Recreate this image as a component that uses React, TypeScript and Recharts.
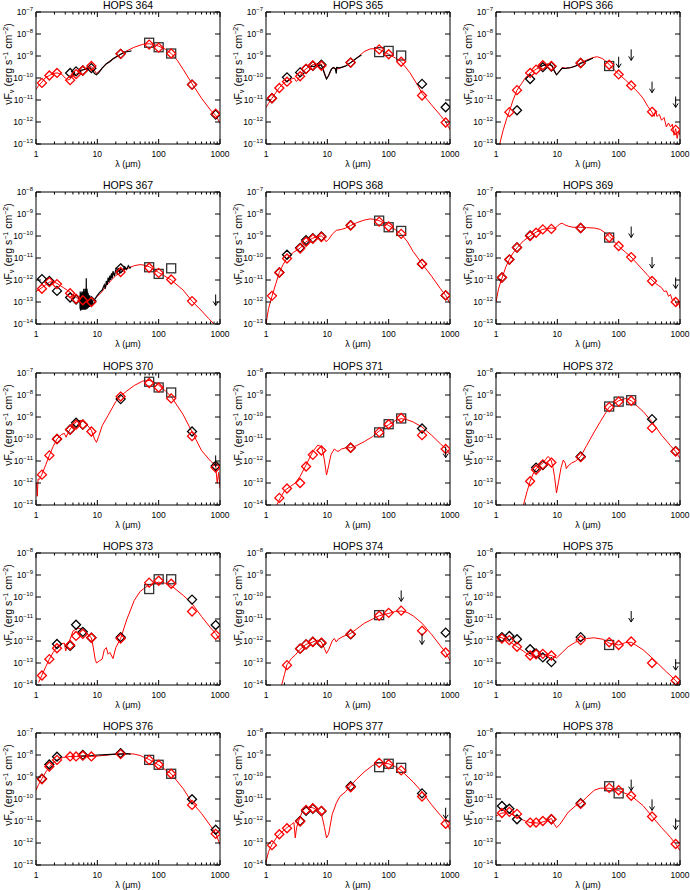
import React from 'react';
import { ComposedChart, Line, Scatter, XAxis, YAxis } from 'recharts';

type Pt = [number, number];
const FONT = '"Liberation Sans", Arial, Helvetica, sans-serif';

const titles = ['HOPS 364','HOPS 365','HOPS 366','HOPS 367','HOPS 368','HOPS 369','HOPS 370','HOPS 371','HOPS 372','HOPS 373','HOPS 374','HOPS 375','HOPS 376','HOPS 377','HOPS 378'];
// decade exponent range (min, max) of each panel's y axis
const yExpRanges: [number, number][] = [
  [-13,-7],[-13,-7],[-13,-7],
  [-14,-8],[-13,-7],[-13,-7],
  [-13,-7],[-14,-8],[-14,-8],
  [-14,-8],[-14,-8],[-14,-8],
  [-13,-7],[-14,-8],[-14,-8],
];
const xTickValues = [1,2,3,4,5,6,7,8,9,10,20,30,40,50,60,70,80,90,100,200,300,400,500,600,700,800,900,1000];
const xTickLabels = [1,10,100,1000];

// ---- HOPS 364 ----
const m364: Pt[] = [[1,3e-11],[1.1,4.5e-11],[1.25,6.5e-11],[1.4,1e-10],[1.65,1.3e-10],[1.9,1.6e-10],[2.2,1.7e-10],[2.6,1.5e-10],[3.0,1e-10],[3.3,8e-11],[3.6,9e-11],[4.0,1.2e-10],[4.5,1.5e-10],[5.0,1.8e-10],[5.8,2.3e-10],[7,3e-10],[8,3.3e-10],[8.7,2.5e-10],[9.7,1.6e-10],[11,2.2e-10],[13,3.5e-10],[16,6e-10],[20,8.5e-10],[24,1.2e-9],[30,1.7e-9],[40,2.5e-9],[55,3.4e-9],[70,3.6e-9],[85,3.3e-9],[100,2.8e-9],[130,2e-9],[160,1.3e-9],[200,6.5e-10],[250,2.5e-10],[350,5.5e-11],[500,1.2e-11],[700,3.5e-12],[850,2e-12],[1000,9e-13]];
const r364: Pt[] = [[1.25,6e-11],[1.65,1.3e-10],[2.2,1.7e-10],[3.6,8e-11],[4.5,1.5e-10],[5.8,2.2e-10],[8,3.5e-10],[24,1.25e-9],[70,3.3e-9],[100,2.4e-9],[160,1.3e-9],[350,5e-11],[850,2.4e-12]];
const d364: Pt[] = [[3.6,1.7e-10],[4.5,2e-10],[5.8,2.2e-10],[8,2.8e-10],[24,1.25e-9],[350,5e-11],[850,2.2e-12]];
const s364: Pt[] = [[70,4e-9],[100,2.5e-9],[160,1.3e-9]];
const u364: Pt[] = [];
const i364: Pt[] = [[5.2,2.2e-10],[6,2.4e-10],[7,2.6e-10],[7.6,2.9e-10],[8.2,2.4e-10],[9,1.6e-10],[9.7,1.4e-10],[10.5,1.7e-10],[12,2.8e-10],[14,4.5e-10],[15,5e-10],[16,5.5e-10],[18,7.5e-10],[20,9e-10],[24,1.2e-9],[28,1.5e-9],[32,1.6e-9],[36,1.7e-9]];

// ---- HOPS 365 ----
const m365: Pt[] = [[1,4.5e-12],[1.1,7e-12],[1.25,1.2e-11],[1.45,2.2e-11],[1.65,3.6e-11],[1.9,5.5e-11],[2.2,7.5e-11],[2.6,9e-11],[2.9,1e-10],[3.1,7e-11],[3.3,8e-11],[3.6,1.3e-10],[4.0,2e-10],[4.5,2.6e-10],[5.0,3.2e-10],[5.8,4e-10],[7,4.4e-10],[8,4.3e-10],[8.8,2e-10],[9.7,9e-11],[10.5,1.3e-10],[12,2.8e-10],[13,3e-10],[14,2.5e-10],[16,2.8e-10],[20,3.6e-10],[24,5e-10],[30,8e-10],[40,1.6e-9],[50,2.1e-9],[65,2.2e-9],[80,1.7e-9],[100,1.2e-9],[130,8e-10],[160,5.5e-10],[220,1.8e-10],[300,4.5e-11],[350,2e-11],[500,6e-12],[700,2e-12],[850,1e-12],[1000,4.5e-13]];
const r365: Pt[] = [[1.25,1.2e-11],[1.65,3.5e-11],[2.2,6.8e-11],[3.6,1.2e-10],[4.5,2.6e-10],[5.8,3.7e-10],[8,3.6e-10],[24,5e-10],[70,2e-9],[100,1.2e-9],[160,5.5e-10],[350,1.6e-11],[850,9.5e-13]];
const d365: Pt[] = [[1.25,1.2e-11],[2.2,1.07e-10],[3.6,1.8e-10],[4.5,2.6e-10],[5.8,3.6e-10],[8,4e-10],[24,5e-10],[350,5.4e-11],[850,4.7e-12]];
const s365: Pt[] = [[70,1.5e-9],[100,1.7e-9],[160,1.05e-9]];
const u365: Pt[] = [];
const i365: Pt[] = [[5.2,3e-10],[5.6,3.5e-10],[6,3.2e-10],[6.5,3.8e-10],[7,3.4e-10],[7.5,3.9e-10],[8,3.8e-10],[8.5,2.5e-10],[9.2,1.3e-10],[9.7,9e-11],[10.5,1.3e-10],[11.5,2.4e-10],[12.5,3e-10],[13.5,2.6e-10],[14,1.6e-10],[14.2,3e-10],[16,2.9e-10],[18,3.2e-10],[20,3.5e-10],[24,5e-10],[28,7e-10],[32,9e-10],[36,1.1e-9]];

// ---- HOPS 366 ----
const m366: Pt[] = [[1.15,1e-13],[1.3,4e-13],[1.5,1.5e-12],[1.65,3e-12],[1.9,1e-11],[2.2,2.8e-11],[2.6,5.5e-11],[3,1e-10],[3.6,1.7e-10],[4.5,2.5e-10],[5.8,3.8e-10],[7,4e-10],[8,3.6e-10],[8.8,2.3e-10],[9.7,1.4e-10],[10.5,1.8e-10],[12,3e-10],[14,2.8e-10],[16,2.9e-10],[20,3.6e-10],[24,5e-10],[30,6.5e-10],[38,8.5e-10],[45,9.3e-10],[55,7.5e-10],[70,4.2e-10],[85,2.3e-10],[100,1.5e-10],[130,8e-11],[160,4.6e-11],[200,2.5e-11],[250,1.2e-11],[300,5e-12],[350,2.8e-12],[380,1.8e-12],[400,3.5e-12],[420,1.8e-12],[460,2.2e-12],[500,1.2e-12],[550,1.6e-12],[600,6e-13],[650,9e-13],[700,6e-13],[750,8e-13],[800,2.5e-13],[850,5e-13],[900,1.8e-13],[950,4e-13],[1000,2.5e-13]];
const r366: Pt[] = [[1.65,2.8e-12],[2.2,2.8e-11],[3.6,1.7e-10],[4.5,2.4e-10],[5.8,3.8e-10],[8,3.5e-10],[24,4.8e-10],[70,4e-10],[100,1.45e-10],[160,4.6e-11],[350,2.9e-12],[850,4.4e-13]];
const d366: Pt[] = [[2.2,3.4e-12],[3.6,9e-11],[5.8,3.1e-10],[8,3.3e-10],[24,4.8e-10]];
const s366: Pt[] = [[70,3.5e-10]];
const u366: Pt[] = [[100,9.3e-10],[160,2e-9],[350,6.8e-11],[850,1.45e-11]];
const i366: Pt[] = [[5.2,3.2e-10],[6,3.8e-10],[7,4.3e-10],[7.6,4.2e-10],[8.3,3.5e-10],[9,2e-10],[9.7,1.4e-10],[10.5,1.8e-10],[12,2.8e-10],[13.5,2.7e-10],[15,2.9e-10],[17,3e-10],[20,3.5e-10],[24,4.6e-10],[28,5.5e-10],[32,6.5e-10],[36,7.5e-10],[38,8e-10]];

// ---- HOPS 367 ----
const m367: Pt[] = [[1,3e-13],[1.25,4.5e-13],[1.65,8e-13],[1.9,8.5e-13],[2.2,7e-13],[2.8,4.5e-13],[3.6,2.8e-13],[4.5,1.6e-13],[5.8,1.15e-13],[7,1e-13],[8,1e-13],[9,1.3e-13],[10,1.8e-13],[12,3e-13],[14,5.5e-13],[17,1e-12],[20,1.6e-12],[24,2.2e-12],[30,3.2e-12],[40,4.5e-12],[50,5e-12],[60,4.7e-12],[70,4e-12],[100,2.2e-12],[160,1e-12],[250,3.5e-13],[350,1.1e-13],[500,4e-14],[650,1.8e-14],[800,1e-14],[900,6e-15]];
const r367: Pt[] = [[1.25,4e-13],[1.65,8e-13],[2.2,6.5e-13],[3.6,2.5e-13],[4.5,1.4e-13],[5.8,1.2e-13],[8,1e-13],[24,2.3e-12],[70,3.6e-12],[100,2.1e-12],[160,1.05e-12],[350,1.1e-13]];
const d367: Pt[] = [[1.25,1.1e-12],[1.65,9e-13],[2.2,3.2e-13],[3.6,1.6e-13],[4.5,1.3e-13],[5.8,1.2e-13],[8,1.1e-13],[24,3.4e-12]];
const s367: Pt[] = [[70,3.8e-12],[100,1.9e-12],[160,3.4e-12]];
const u367: Pt[] = [[850,2.2e-13]];
const i367: Pt[] = [[5.2,2e-13],[5.23,5e-14],[5.26,3e-13],[5.3,4.5e-14],[5.33,1.5e-13],[5.36,4e-14],[5.4,2e-13],[5.43,5e-14],[5.46,2.5e-13],[5.5,4.5e-14],[5.53,1.5e-13],[5.56,5e-14],[5.6,3e-13],[5.63,5e-14],[5.66,2e-13],[5.7,4.5e-14],[5.73,2.5e-13],[5.76,5e-14],[5.8,1.8e-13],[5.83,4.5e-14],[5.86,3e-13],[5.9,5e-14],[5.93,2e-13],[5.96,4.5e-14],[6.0,4e-13],[6.03,5e-14],[6.06,2e-13],[6.1,4.5e-14],[6.13,2.5e-13],[6.16,5e-14],[6.2,3e-13],[6.23,5e-14],[6.26,2e-13],[6.3,4.5e-14],[6.33,4e-13],[6.36,5e-14],[6.4,2.5e-13],[6.43,5e-14],[6.46,3e-13],[6.5,4.5e-14],[6.53,2e-13],[6.56,5e-14],[6.6,1.2e-12],[6.63,5e-14],[6.66,3e-13],[6.7,5e-14],[6.73,2.5e-13],[6.76,5e-14],[6.8,4e-13],[6.83,5.5e-14],[6.86,2e-13],[6.9,5e-14],[6.93,3e-13],[6.96,5.5e-14],[7.0,2e-13],[7.05,6e-14],[7.1,2.5e-13],[7.15,5.5e-14],[7.2,1.8e-13],[7.25,6e-14],[7.3,2e-13],[7.35,6e-14],[7.4,1.6e-13],[7.45,6e-14],[7.5,2e-13],[7.55,6.5e-14],[7.6,1.5e-13],[7.7,7e-14],[7.8,1.6e-13],[7.9,8e-14],[8.0,1.4e-13],[8.2,7e-14],[8.5,1.2e-13],[9,1.3e-13],[10,2e-13],[11,2.8e-13],[12,3.5e-13],[13,6e-13],[13.5,4e-13],[14,9e-13],[14.5,6e-13],[15,1.3e-12],[15.5,8e-13],[16,1.6e-12],[16.5,1e-12],[17,2e-12],[17.5,1.2e-12],[18,2.5e-12],[19,1.5e-12],[20,3e-12],[21,2e-12],[22,3.5e-12],[23,2.2e-12],[24,3.2e-12],[26,2.6e-12],[28,4e-12],[30,3e-12],[32,4.5e-12],[34,3.5e-12],[35,4e-12]];

// ---- HOPS 368 ----
const m368: Pt[] = [[1,1e-13],[1.1,5e-13],[1.25,1.8e-12],[1.45,7e-12],[1.65,2.2e-11],[1.9,5e-11],[2.2,1e-10],[2.8,1.8e-10],[3.6,2.8e-10],[4.5,5.5e-10],[5.8,8e-10],[7,9.5e-10],[8,1e-9],[8.8,8e-10],[9.5,5.5e-10],[10.5,7e-10],[12,1.2e-9],[14,1.8e-9],[17,2e-9],[20,2.3e-9],[24,3e-9],[30,4e-9],[40,5.3e-9],[50,6e-9],[60,5.6e-9],[70,5e-9],[100,3e-9],[130,1.9e-9],[160,1.2e-9],[200,5.8e-10],[250,2e-10],[350,5.5e-11],[500,1.5e-11],[700,4e-12],[850,2e-12],[1000,8.5e-13]];
const r368: Pt[] = [[1.25,1.9e-12],[1.65,2.2e-11],[2.2,9.5e-11],[3.6,2.7e-10],[4.5,5.5e-10],[5.8,7.5e-10],[8,9e-10],[24,3e-9],[70,4.5e-9],[100,2.7e-9],[160,1.25e-9],[350,5.3e-11],[850,2e-12]];
const d368: Pt[] = [[1.65,2.2e-11],[2.2,1.4e-10],[3.6,2.9e-10],[4.5,6.5e-10],[5.8,8e-10],[8,9.5e-10],[24,3.1e-9],[350,5.4e-11],[850,2e-12]];
const s368: Pt[] = [[70,5e-9],[100,2.5e-9],[160,1.7e-9]];
const u368: Pt[] = [];
const i368: Pt[] = [];

// ---- HOPS 369 ----
const m369: Pt[] = [[1,1e-12],[1.1,4e-12],[1.25,1.2e-11],[1.45,4e-11],[1.65,8.7e-11],[1.9,1.7e-10],[2.2,2.9e-10],[2.8,6e-10],[3.6,1e-9],[4.5,1.5e-9],[5.8,2e-9],[7,2.2e-9],[8,2.3e-9],[9,2.2e-9],[10,2.8e-9],[11,3.5e-9],[12,3.8e-9],[13,3.3e-9],[15,2.8e-9],[18,2.5e-9],[24,2.5e-9],[30,2.4e-9],[40,2.3e-9],[50,2e-9],[60,1.4e-9],[70,9.6e-10],[85,5.5e-10],[100,3.4e-10],[130,1.8e-10],[160,1.1e-10],[200,5.5e-11],[250,2.8e-11],[300,1.6e-11],[350,1e-11],[400,7e-12],[450,5.5e-12],[500,4.5e-12],[550,3e-12],[600,3.2e-12],[650,1.8e-12],[700,2.2e-12],[750,1.2e-12],[800,1.4e-12],[850,1e-12],[900,7e-13],[950,1.1e-12],[1000,5e-13]];
const r369: Pt[] = [[1.25,1.3e-11],[1.65,8.5e-11],[2.2,3e-10],[3.6,1e-9],[4.5,1.4e-9],[5.8,2e-9],[8,2.1e-9],[24,2.3e-9],[70,8.5e-10],[100,3.5e-10],[160,1.1e-10],[350,9e-12],[850,1e-12]];
const d369: Pt[] = [[1.25,1.3e-11],[1.65,8.5e-11],[2.2,3e-10],[3.6,1.05e-9],[24,2.3e-9]];
const s369: Pt[] = [[70,8.5e-10]];
const u369: Pt[] = [[160,2.7e-9],[350,1.1e-10],[850,1.3e-11]];
const i369: Pt[] = [];

// ---- HOPS 370 ----
const m370: Pt[] = [[1.02,1e-12],[1.05,2.5e-13],[1.08,1.5e-12],[1.15,1.5e-12],[1.25,2.5e-12],[1.45,7e-12],[1.65,1.8e-11],[1.9,4.5e-11],[2.2,1e-10],[2.6,1.6e-10],[2.9,1.8e-10],[3.1,1.2e-10],[3.3,1.8e-10],[3.6,2.8e-10],[4.0,4e-10],[4.5,6e-10],[5.2,7e-10],[5.8,6.5e-10],[7,4e-10],[8,2.5e-10],[9,1e-10],[9.7,7e-11],[10.5,1.3e-10],[12,4e-10],[15,1.2e-9],[20,5e-9],[24,9e-9],[30,1.5e-8],[40,2.7e-8],[55,4.3e-8],[70,4.6e-8],[85,3.8e-8],[100,2.8e-8],[130,1.5e-8],[160,8.5e-9],[250,1.3e-9],[350,2.1e-10],[500,3e-11],[700,1e-11],[850,6e-12],[900,1e-12],[950,3e-12],[1000,6e-13]];
const r370: Pt[] = [[1.25,2.4e-12],[1.65,1.8e-11],[2.2,1e-10],[3.6,2.6e-10],[4.5,4.5e-10],[5.8,4.6e-10],[8,2.2e-10],[24,8.5e-9],[70,3.5e-8],[100,2.2e-8],[160,7e-9],[350,1.35e-10],[850,5e-12]];
const d370: Pt[] = [[2.2,1e-10],[3.6,2.7e-10],[4.5,5.5e-10],[5.8,4.5e-10],[24,6.5e-9],[350,2.2e-10],[850,6e-12]];
const s370: Pt[] = [[70,4e-8],[100,2.2e-8],[160,1.3e-8]];
const u370: Pt[] = [[850,1.8e-11]];
const i370: Pt[] = [];

// ---- HOPS 371 ----
const m371: Pt[] = [[1.5,1e-14],[1.7,2e-14],[2,4.5e-14],[2.5,7e-14],[3,1e-13],[3.6,2e-13],[4.5,6.6e-13],[5.8,2.7e-12],[7,5.3e-12],[8,4.5e-12],[8.5,2.5e-12],[9,1e-12],[9.7,2.3e-13],[10.5,6e-13],[11.5,2e-12],[13,3.5e-12],[14,3e-12],[15,2.7e-12],[17,3.5e-12],[20,4e-12],[24,4e-12],[30,5e-12],[40,7.6e-12],[55,1.3e-11],[70,2.3e-11],[100,4.5e-11],[130,7e-11],[160,8.4e-11],[200,7.5e-11],[250,6e-11],[350,3.5e-11],[500,1.5e-11],[700,6e-12],[850,3.7e-12],[1000,2e-12]];
const r371: Pt[] = [[1.65,2.1e-14],[2.2,5.6e-14],[3.6,1e-13],[4.5,5.6e-13],[5.8,1.9e-12],[8,3e-12],[24,4e-12],[70,2e-11],[100,4.7e-11],[160,9e-11],[350,1.5e-11],[850,3.5e-12]];
const d371: Pt[] = [[24,4e-12],[350,3e-11]];
const s371: Pt[] = [[70,2e-11],[100,4.7e-11],[160,8.6e-11]];
const u371: Pt[] = [[850,4.5e-12]];
const i371: Pt[] = [];

// ---- HOPS 372 ----
const m372: Pt[] = [[2.8,1e-14],[3.2,4e-14],[3.6,1.2e-13],[4,2.5e-13],[4.5,4.5e-13],[5.2,6.5e-13],[5.8,8e-13],[6.5,1.2e-12],[7,1.6e-12],[7.5,1.4e-12],[8,1e-12],[8.5,5e-13],[9,2e-13],[9.7,3.5e-14],[10.5,1.2e-13],[11.5,5e-13],[12.5,1.1e-12],[13.5,8e-13],[14,4.5e-13],[15,6e-13],[17,8e-13],[20,1e-12],[24,1.6e-12],[30,5e-12],[40,2.1e-11],[50,6e-11],[70,2.8e-10],[100,5.5e-10],[130,7e-10],[160,5.5e-10],[250,1.8e-10],[350,6e-11],[500,1.5e-11],[700,5e-12],[850,2.7e-12],[1000,1.3e-12]];
const r372: Pt[] = [[3.6,1.2e-13],[4.5,4e-13],[5.8,7e-13],[8,8.5e-13],[24,1.5e-12],[70,2.8e-10],[100,5e-10],[160,5.5e-10],[350,3.2e-11],[850,2.7e-12]];
const d372: Pt[] = [[4.5,5e-13],[5.8,6.5e-13],[24,1.6e-12],[350,8e-11],[850,2.8e-12]];
const s372: Pt[] = [[70,3e-10],[100,5e-10],[160,5.8e-10]];
const u372: Pt[] = [];
const i372: Pt[] = [];

// ---- HOPS 373 ----
const m373: Pt[] = [[1.1,1.3e-14],[1.25,2.8e-14],[1.45,7e-14],[1.65,1.5e-13],[1.9,3e-13],[2.2,5.5e-13],[2.6,7.5e-13],[2.9,8e-13],[3.05,3.5e-13],[3.2,6e-13],[3.6,1.2e-12],[4,2.8e-12],[4.5,3.5e-12],[5,3.8e-12],[5.8,3.5e-12],[7,2e-12],[8,1.4e-12],[8.6,5e-13],[9.2,1.5e-13],[9.7,1e-13],[11,1.3e-13],[12,1.5e-13],[13,4e-13],[14,5e-13],[15,2.5e-13],[16,3e-13],[18,1.6e-13],[20,5e-13],[24,1.3e-12],[30,9e-12],[40,7e-11],[50,1.8e-10],[70,3.6e-10],[100,4.7e-10],[130,4.2e-10],[160,3.3e-10],[250,1.2e-10],[350,5e-11],[500,1.3e-11],[700,4e-12],[850,2.2e-12],[1000,1.1e-12]];
const r373: Pt[] = [[1.25,2.7e-14],[1.65,1.5e-13],[2.2,4.7e-13],[3.6,6.6e-13],[4.5,1.7e-12],[5.8,2.1e-12],[8,1.4e-12],[24,1.3e-12],[70,4.5e-10],[100,5.5e-10],[160,4e-10],[350,2.2e-11],[850,1.9e-12]];
const d373: Pt[] = [[2.2,7.3e-13],[3.6,6e-13],[4.5,5.5e-12],[5.8,2.6e-12],[8,1.4e-12],[24,1.5e-12],[350,7.6e-11],[850,5.3e-12]];
const s373: Pt[] = [[70,2.3e-10],[100,6.4e-10],[160,6.4e-10]];
const u373: Pt[] = [];
const i373: Pt[] = [];

// ---- HOPS 374 ----
const m374: Pt[] = [[1.8,1e-14],[2,3e-14],[2.2,8.5e-14],[2.6,1.6e-13],[3,2.3e-13],[3.6,4.2e-13],[4.5,7e-13],[5.8,9e-13],[7,1.1e-12],[8,9e-13],[9,4.5e-13],[9.7,2.7e-13],[10.5,4e-13],[12,1e-12],[13,1.3e-12],[14,9e-13],[15,1.2e-12],[18,1.6e-12],[24,2.2e-12],[30,3.5e-12],[40,6.4e-12],[55,1e-11],[70,1.4e-11],[100,1.8e-11],[130,2.2e-11],[160,2.3e-11],[200,2e-11],[250,1.4e-11],[350,6.4e-12],[500,2e-12],[700,6e-13],[850,3e-13],[1000,1.3e-13]];
const r374: Pt[] = [[2.2,8e-14],[3.6,4.5e-13],[4.5,7e-13],[5.8,9e-13],[8,8.5e-13],[24,2.1e-12],[70,1.4e-11],[100,1.9e-11],[160,2.4e-11],[350,2.9e-12],[850,3e-13]];
const d374: Pt[] = [[3.6,4.5e-13],[4.5,7e-13],[5.8,9.3e-13],[8,8e-13],[24,2e-12],[850,2.4e-12]];
const s374: Pt[] = [[70,1.5e-11]];
const u374: Pt[] = [[160,2e-10],[350,2.2e-12]];
const i374: Pt[] = [];

// ---- HOPS 375 ----
const m375: Pt[] = [[1,1.6e-12],[1.25,1.4e-12],[1.65,9.5e-13],[2.2,5.5e-13],[3,3e-13],[3.6,2.1e-13],[4.5,2e-13],[5.8,2.4e-13],[8,2.2e-13],[9.7,1.7e-13],[12,3e-13],[15,5.5e-13],[20,9e-13],[30,1.3e-12],[40,1.4e-12],[55,1.2e-12],[70,8e-13],[100,6.6e-13],[130,8.5e-13],[160,8.8e-13],[250,4e-13],[350,1.7e-13],[600,4e-14],[850,1.6e-14],[1000,1e-14]];
const r375: Pt[] = [[1.25,1.3e-12],[1.65,1.1e-12],[2.2,5.5e-13],[3.6,2.2e-13],[4.5,2.5e-13],[5.8,2.6e-13],[8,2.2e-13],[24,1.1e-12],[70,8.7e-13],[100,6.6e-13],[160,9.5e-13],[350,1e-13],[850,1.6e-14]];
const d375: Pt[] = [[1.25,1.5e-12],[1.65,1.7e-12],[2.2,1.2e-12],[3.6,4.2e-13],[4.5,2.7e-13],[5.8,1.8e-13],[8,1.1e-13],[24,1.5e-12]];
const s375: Pt[] = [[70,6.6e-13]];
const u375: Pt[] = [[160,2.3e-11],[850,1.5e-13]];
const i375: Pt[] = [];

// ---- HOPS 376 ----
const m376: Pt[] = [[1,2.5e-10],[1.1,4.5e-10],[1.25,8.4e-10],[1.45,1.7e-9],[1.65,2.8e-9],[1.9,4.5e-9],[2.2,6e-9],[2.8,7.8e-9],[3.6,8.5e-9],[5,8.7e-9],[8,8.6e-9],[10,9e-9],[15,1e-8],[20,1.1e-8],[30,1.15e-8],[40,1.1e-8],[50,9.5e-9],[70,6.2e-9],[100,3.5e-9],[160,1.4e-9],[250,3e-10],[350,7e-11],[500,2.2e-11],[700,6e-12],[850,2.8e-12],[1000,8.5e-13]];
const r376: Pt[] = [[1.25,7.9e-10],[1.65,3e-9],[2.2,6e-9],[3.6,8.6e-9],[4.5,8.6e-9],[5.8,9.3e-9],[8,8.6e-9],[24,1.1e-8],[70,6e-9],[100,3.6e-9],[160,1.4e-9],[350,5.4e-11],[850,2.6e-12]];
const d376: Pt[] = [[1.25,8.4e-10],[1.65,3.7e-9],[2.2,8.4e-9],[5.8,1e-8],[24,1.2e-8],[350,9.7e-11],[850,4e-12]];
const s376: Pt[] = [[70,6e-9],[100,3.6e-9],[160,1.4e-9]];
const u376: Pt[] = [];
const i376: Pt[] = [[5.2,9e-9],[8,9.5e-9],[10,1e-8],[14,1.05e-8],[20,1.1e-8],[25,1.1e-8],[30,1.15e-8],[35,1.1e-8]];

// ---- HOPS 377 ----
const m377: Pt[] = [[1,1.4e-14],[1.1,4e-14],[1.25,8.4e-14],[1.45,1.6e-13],[1.65,2.5e-13],[2.2,5e-13],[2.6,7e-13],[2.85,8.5e-13],[3.0,1.7e-13],[3.15,5e-13],[3.4,1e-12],[4,3.2e-12],[4.5,4e-12],[5.2,4.2e-12],[5.8,4e-12],[7,3e-12],[8,2.2e-12],[9,5e-13],[9.7,1.7e-13],[10.5,2.5e-13],[12,2e-12],[14,6.4e-12],[16,1.3e-11],[20,2.2e-11],[24,4e-11],[30,8e-11],[40,1.7e-10],[55,3.4e-10],[70,4.4e-10],[100,4e-10],[130,2.9e-10],[160,2e-10],[250,6e-11],[350,2.1e-11],[500,5.5e-12],[700,1.8e-12],[850,9.6e-13],[1000,4e-13]];
const r377: Pt[] = [[1.25,8e-14],[1.65,2.5e-13],[2.2,4.7e-13],[3.6,9.5e-13],[4.5,3.2e-12],[5.8,3.8e-12],[8,2.9e-12],[24,3.4e-11],[70,4.4e-10],[100,3.8e-10],[160,2e-10],[350,1.3e-11],[850,7.5e-13]];
const d377: Pt[] = [[3.6,1e-12],[4.5,2.9e-12],[5.8,3.6e-12],[8,2.8e-12],[24,3.8e-11],[350,1.8e-11]];
const s377: Pt[] = [[70,2.8e-10],[100,4e-10],[160,2.6e-10]];
const u377: Pt[] = [[850,4e-12]];
const i377: Pt[] = [];

// ---- HOPS 378 ----
const m378: Pt[] = [[1,1.7e-12],[1.25,2.3e-12],[1.65,2.3e-12],[2.2,1.5e-12],[3,1e-12],[3.6,8.5e-13],[5,8e-13],[6.5,1e-12],[8,1.3e-12],[9,7e-13],[9.7,5e-13],[11,7e-13],[12,1e-12],[15,2.5e-12],[20,5e-12],[24,6.4e-12],[30,1.2e-11],[40,2.5e-11],[50,3.1e-11],[70,3.1e-11],[100,2.4e-11],[160,1.4e-11],[250,5e-12],[350,1.6e-12],[500,5e-13],[700,1.8e-13],[850,9e-14],[1000,4.5e-14]];
const r378: Pt[] = [[1.25,2.3e-12],[1.65,2.6e-12],[2.2,2.1e-12],[3.6,8.5e-13],[4.5,8.5e-13],[5.8,1e-12],[8,1.2e-12],[24,6e-12],[70,3.2e-11],[100,2.5e-11],[160,1.4e-11],[350,1.6e-12],[850,9e-14]];
const d378: Pt[] = [[1.25,4.8e-12],[1.65,3.6e-12],[2.2,1.2e-12],[8,1.2e-12],[24,6.4e-12]];
const s378: Pt[] = [[70,3.8e-11],[100,1.8e-11]];
const u378: Pt[] = [[160,7.6e-11],[350,9.6e-12],[850,1.3e-12]];
const i378: Pt[] = [];

const models = [m364,m365,m366,m367,m368,m369,m370,m371,m372,m373,m374,m375,m376,m377,m378];
const modelPhot = [r364,r365,r366,r367,r368,r369,r370,r371,r372,r373,r374,r375,r376,r377,r378];
const obsPhot = [d364,d365,d366,d367,d368,d369,d370,d371,d372,d373,d374,d375,d376,d377,d378];
const pacsPhot = [s364,s365,s366,s367,s368,s369,s370,s371,s372,s373,s374,s375,s376,s377,s378];
const upperLimits = [u364,u365,u366,u367,u368,u369,u370,u371,u372,u373,u374,u375,u376,u377,u378];
const spectra = [i364,i365,i366,i367,i368,i369,i370,i371,i372,i373,i374,i375,i376,i377,i378];

const colLeft = [0, 230, 460];
const rowTop = [0, 180, 361, 541, 721];
const W = 230, H = 180;

const toXY = (a: Pt[]) => a.map(([x, y]) => ({ x, y }));
const dec = (e: number) => Number('1e' + e);

const XTick = (props: any) => {
  const { x, y, payload, side } = props;
  const v = payload.value;
  const major = xTickLabels.includes(v);
  const len = major ? 5 : 2.5;
  if (side === 'top') return <line x1={x} y1={y} x2={x} y2={y + len} stroke="#000" strokeWidth={1} />;
  return (
    <g>
      <line x1={x} y1={y} x2={x} y2={y - len} stroke="#000" strokeWidth={1} />
      {major && <text x={x} y={y + 13} textAnchor="middle" fontSize={8.5} fontFamily={FONT} fill="#000">{String(v)}</text>}
    </g>
  );
};

const YTick = (props: any) => {
  const { x, y, payload, side } = props;
  if (side === 'right') return <line x1={x} y1={y} x2={x - 5} y2={y} stroke="#000" strokeWidth={1} />;
  const e = Math.round(Math.log10(payload.value));
  return (
    <g>
      <line x1={x} y1={y} x2={x + 5} y2={y} stroke="#000" strokeWidth={1} />
      <text x={x - 3} y={y + 3} textAnchor="end" fontSize={8.5} fontFamily={FONT} fill="#000">
        10<tspan dy={-4} fontSize={6}>{'\u2212' + String(-e)}</tspan>
      </text>
    </g>
  );
};

const diamond = (color: string) => (props: any) => {
  const { cx, cy } = props;
  const r = 4.5;
  return <path d={`M${cx},${cy - r}L${cx + r},${cy}L${cx},${cy + r}L${cx - r},${cy}Z`} fill="none" stroke={color} strokeWidth={1.3} />;
};
const square = (props: any) => {
  const { cx, cy } = props;
  return <rect x={cx - 4.5} y={cy - 4.5} width={9} height={9} fill="none" stroke="#333" strokeWidth={1.3} />;
};
const arrow = (props: any) => {
  const { cx, cy } = props;
  return (
    <g stroke="#000" strokeWidth={1} fill="none">
      <line x1={cx} y1={cy} x2={cx} y2={cy + 11} />
      <polyline points={`${cx - 2.5},${cy + 7} ${cx},${cy + 11} ${cx + 2.5},${cy + 7}`} />
    </g>
  );
};

function Panel({ idx }: { idx: number }) {
  const [lo, hi] = yExpRanges[idx];
  const yTicks: number[] = [];
  for (let e = lo; e <= hi; e++) yTicks.push(dec(e));
  const yDomain = [dec(lo), dec(hi)];
  const left = colLeft[idx % 3];
  const top = rowTop[Math.floor(idx / 3)];
  const axisLine = { stroke: '#000', strokeWidth: 1 };
  return (
    <div style={{ position: 'absolute', left, top, width: W, height: H }}>
      <ComposedChart width={W} height={H} margin={{ top: 11, right: 9, bottom: 0, left: 0 }}>
        <XAxis type="number" dataKey="x" scale="log" domain={[1, 1000]} allowDataOverflow ticks={xTickValues} interval={0}
          tickSize={0} tickMargin={0} height={36} axisLine={axisLine} tickLine={false} tick={<XTick side="bottom" />} />
        <XAxis xAxisId="t" orientation="top" type="number" dataKey="x" scale="log" domain={[1, 1000]} allowDataOverflow ticks={xTickValues} interval={0}
          tickSize={0} tickMargin={0} height={1} axisLine={axisLine} tickLine={false} tick={<XTick side="top" />} />
        <YAxis type="number" dataKey="y" scale="log" domain={yDomain} allowDataOverflow ticks={yTicks} interval={0}
          tickSize={0} tickMargin={0} width={36} axisLine={axisLine} tickLine={false} tick={<YTick side="left" />} />
        <YAxis yAxisId="r" orientation="right" type="number" dataKey="y" scale="log" domain={yDomain} allowDataOverflow ticks={yTicks} interval={0}
          tickSize={0} tickMargin={0} width={1} axisLine={axisLine} tickLine={false} tick={<YTick side="right" />} />
        <Line data={toXY(models[idx])} dataKey="y" type="linear" stroke="#ff0000" strokeWidth={1} dot={false} isAnimationActive={false} />
        {spectra[idx].length > 0 && (
          <Line data={toXY(spectra[idx])} dataKey="y" type="linear" stroke="#000" strokeWidth={1.2} dot={false} isAnimationActive={false} />
        )}
        <Scatter data={toXY(pacsPhot[idx])} dataKey="y" shape={square} isAnimationActive={false} />
        <Scatter data={toXY(obsPhot[idx])} dataKey="y" shape={diamond('#000')} isAnimationActive={false} />
        <Scatter data={toXY(modelPhot[idx])} dataKey="y" shape={diamond('#ff0000')} isAnimationActive={false} />
        {upperLimits[idx].length > 0 && (
          <Scatter data={toXY(upperLimits[idx])} dataKey="y" shape={arrow} isAnimationActive={false} />
        )}
      </ComposedChart>
      <svg width={W} height={H} style={{ position: 'absolute', left: 0, top: 0, pointerEvents: 'none' }}>
        <text x={128} y={8.5} textAnchor="middle" fontSize={10.5} fontFamily={FONT} fill="#000">{titles[idx]}</text>
        <text x={128} y={167} textAnchor="middle" fontSize={9} fontFamily={FONT} fill="#000">{'\u03BB (\u03BCm)'}</text>
        <text transform="translate(12,64) rotate(-90)" textAnchor="middle" fontSize={10.5} fontFamily={FONT} fill="#000">
          {'\u03BDF'}<tspan dy={2} fontSize={7}>{'\u03BD'}</tspan>
          <tspan dy={-2}>{' (erg s'}</tspan>
          <tspan dy={-4} fontSize={7}>{'\u22121'}</tspan>
          <tspan dy={4}>{' cm'}</tspan>
          <tspan dy={-4} fontSize={7}>{'\u22122'}</tspan>
          <tspan dy={4}>{')'}</tspan>
        </text>
      </svg>
    </div>
  );
}

export default function App() {
  return (
    <div style={{ position: 'absolute', left: 0, top: 0, width: 690, height: 890, overflow: 'hidden', background: '#fff' }}>
      {titles.map((_, i) => <Panel key={i} idx={i} />)}
    </div>
  );
}
